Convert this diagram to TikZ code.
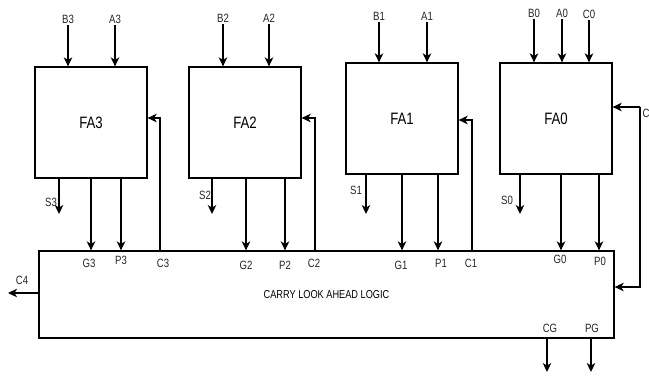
\documentclass[tikz,border=0pt]{standalone}
\usepackage{fontspec}
\setmainfont{Liberation Sans}[FakeStretch=0.8]
\usetikzlibrary{arrows.meta,calc}
\tikzset{
  bloc/.style={
    rectangle, draw=black, line width=1.3pt, inner sep=0pt,
    minimum width=112pt, minimum height=111pt,
    font=\fontsize{16.5}{18}\selectfont},
  blocLogique/.style={bloc, minimum width=575pt, minimum height=87pt,
    font=\fontsize{11.5}{12}\selectfont},
  fleche/.style={-{Stealth[length=9pt,width=8.5pt,inset=2.5pt]}, line width=1.3pt},
  etiquette/.style={font=\fontsize{12}{13}\selectfont, inner sep=1.5pt, text=black!85}
}

\begin{document}
\begin{tikzpicture}[x=1pt, y=-1pt]
  \useasboundingbox (0,0) rectangle (649,376);

  % --- Additionneurs complets
  \node[bloc] (fa3) at (91,122.5) {FA3};
  \node[bloc] (fa2) at (245,122.5) {FA2};
  \node[bloc] (fa1) at (402,118.5) {FA1};
  \node[bloc] (fa0) at (556,118.5) {FA0};

  % --- Bloc de retenue anticipee
  \node[blocLogique] (cla) at (326.5,294.5) {CARRY LOOK AHEAD LOGIC};

  % --- Entrees A, B et C0
  \foreach \n/\x/\y/\f in {B3/68/19/fa3, A3/115/19/fa3, B2/223/18/fa2, A2/269/18/fa2,
                           B1/379/16/fa1, A1/427/16/fa1, B0/534/13/fa0, A0/562/13/fa0,
                           C0/589/14/fa0}{
    \node[etiquette] (l\n) at (\x,\y) {\n};
    \draw[fleche] (l\n) -- (l\n |- \f.north);
  }

  % --- Sorties de somme
  \foreach \n/\x/\lx/\ly/\f in {3/59/51/202/fa3, 2/212/205/195/fa2,
                                1/366/356/190/fa1, 0/520/507/200/fa0}{
    \coordinate (s\n) at (\x,214);
    \draw[fleche] (s\n |- \f.south) -- (s\n);
    \node[etiquette] (ls\n) at (\lx,\ly) {S\n};
  }

  % --- Generation et propagation vers le bloc
  \foreach \n/\x/\lx/\ly/\f in {G3/91/89/263/fa3, P3/121/121/260/fa3,
                                G2/246/246/265/fa2, P2/285/285/265/fa2,
                                G1/402/401/265/fa1, P1/438/441/263/fa1,
                                G0/561/560/259/fa0, P0/599/600/261/fa0}{
    \coordinate (a\n) at (\x,0);
    \draw[fleche] (a\n |- \f.south) -- (a\n |- cla.north);
    \node[etiquette] (l\n) at (\lx,\ly) {\n};
  }

  % --- Retenues renvoyees aux additionneurs
  \foreach \n/\x/\lx/\s/\f in {C3/160/163/4.5/fa3, C2/315/314/4.5/fa2, C1/472/471/-1.5/fa1}{
    \coordinate (a\n) at (\x,0);
    \draw[fleche] (a\n |- cla.north) |- ([yshift=\s pt]\f.east);
    \node[etiquette] (l\n) at (\lx,263) {\n};
  }

  % --- Retenue d'entree C0
  \coordinate (c0) at (640,107);
  \draw[fleche] (c0) -- (c0 -| fa0.east);
  \draw[fleche] (c0) |- ([yshift=7.5pt]cla.east);
  \node[etiquette, anchor=west] (lc0) at (641,113) {C0};

  % --- Sorties du bloc
  \coordinate (c4) at (8,293);
  \draw[fleche] (c4 -| cla.west) -- (c4);
  \node[etiquette] (lc4) at (22,280) {C4};

  \coordinate (cg) at (547,372);
  \coordinate (pg) at (591,372);
  \draw[fleche] (cg |- cla.south) -- (cg);
  \draw[fleche] (pg |- cla.south) -- (pg);
  \node[etiquette] (lcg) at (550,328) {CG};
  \node[etiquette] (lpg) at (592,328) {PG};

\end{tikzpicture}
\end{document}
